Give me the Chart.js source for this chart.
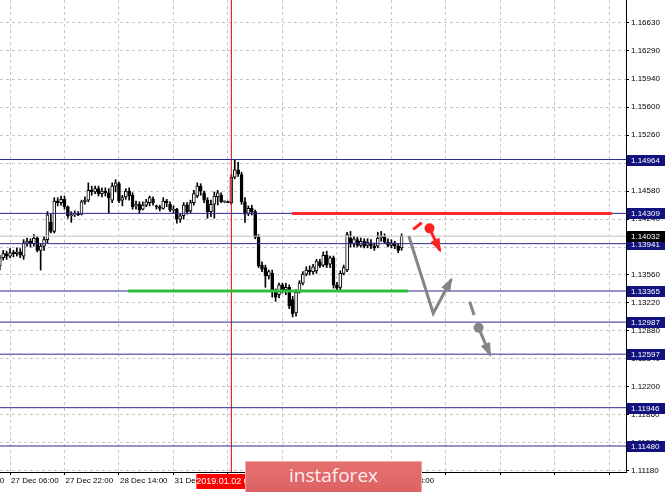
<!DOCTYPE html>
<html>
<head>
<meta charset="utf-8">
<script src="https://cdn.jsdelivr.net/npm/chart.js@4.4.1/dist/chart.umd.min.js"></script>
<style>
  html, body { margin: 0; padding: 0; background: #fff; }
  #wrap { position: relative; width: 665px; height: 492px; overflow: hidden; }
  #logo {
    position: absolute; left: 245px; top: 461px; width: 177px; height: 34px;
    box-sizing: border-box; border: 1px solid #f0a9a9;
    background: linear-gradient(#e46f6f, #dd6262);
    color: #fdeeee; font: 19px "Open Sans", "Liberation Sans", sans-serif;
    text-align: center; line-height: 27px;
  }
</style>
</head>
<body>
<div id="wrap">
  <canvas id="chart" width="665" height="492"></canvas>
  <div id="logo">instaforex</div>
</div>
<script>
// H1 bars, index 0 = 27 Dec 06:00, index 65 = 2 Jan 00:00 (no bars on 1 Jan)
const firstBar = -3;
const opens = [
  1.1367, 1.1377, 1.1382, 1.1379, 1.1383, 1.1382, 1.1384, 1.1379, 1.1395, 1.1397,
  1.1394, 1.1401, 1.1386, 1.1391, 1.1399, 1.1420, 1.1409, 1.1446, 1.1444, 1.1448,
  1.1439, 1.1428, 1.1429, 1.1430, 1.1430, 1.1445, 1.1447, 1.1459, 1.1457, 1.1461,
  1.1455, 1.1458, 1.1456, 1.1447, 1.1464, 1.1467, 1.1447, 1.1451, 1.1458, 1.1453,
  1.1440, 1.1442, 1.1436, 1.1441, 1.1444, 1.1448, 1.1440, 1.1439, 1.1437, 1.1446,
  1.1442, 1.1435, 1.1436, 1.1424, 1.1428, 1.1441, 1.1434, 1.1444, 1.1452, 1.1464,
  1.1456, 1.1447, 1.1433, 1.1442, 1.1451, 1.1453, 1.1445, 1.1445, 1.1444, 1.1475,
  1.1484, 1.1478, 1.1445, 1.1431, 1.1437, 1.1433, 1.1402, 1.1368, 1.1365, 1.1355,
  1.1358, 1.1337, 1.1332, 1.1344, 1.1338, 1.1341, 1.1326, 1.1310, 1.1337, 1.1346,
  1.1357, 1.1362, 1.1360, 1.1361, 1.1372, 1.1368, 1.1380, 1.1369, 1.1377, 1.1344,
  1.1341, 1.1358, 1.1362, 1.1401, 1.1394, 1.1399, 1.1392, 1.1397, 1.1392, 1.1395,
  1.1391, 1.1391, 1.1401, 1.1402, 1.1396, 1.1392, 1.1395, 1.1391, 1.1389
];
const highs = [
  1.1380, 1.1386, 1.1385, 1.1388, 1.1386, 1.1389, 1.1388, 1.1399, 1.1401, 1.1400,
  1.1405, 1.1403, 1.1394, 1.1403, 1.1433, 1.1430, 1.1450, 1.1450, 1.1452, 1.1452,
  1.1440, 1.1433, 1.1434, 1.1433, 1.1447, 1.1451, 1.1468, 1.1464, 1.1464, 1.1464,
  1.1462, 1.1462, 1.1461, 1.1468, 1.1472, 1.1469, 1.1453, 1.1461, 1.1462, 1.1456,
  1.1446, 1.1445, 1.1445, 1.1448, 1.1452, 1.1451, 1.1441, 1.1441, 1.1450, 1.1448,
  1.1445, 1.1440, 1.1437, 1.1430, 1.1444, 1.1444, 1.1447, 1.1459, 1.1468, 1.1467,
  1.1458, 1.1450, 1.1447, 1.1457, 1.1459, 1.1456, 1.1446, 1.1446, 1.1478, 1.1496,
  1.1493, 1.1481, 1.1450, 1.1440, 1.1441, 1.1435, 1.1405, 1.1372, 1.1368, 1.1362,
  1.1362, 1.1339, 1.1346, 1.1346, 1.1346, 1.1344, 1.1330, 1.1338, 1.1349, 1.1360,
  1.1366, 1.1367, 1.1369, 1.1375, 1.1375, 1.1384, 1.1385, 1.1379, 1.1379, 1.1347,
  1.1361, 1.1368, 1.1408, 1.1409, 1.1403, 1.1402, 1.1401, 1.1400, 1.1400, 1.1399,
  1.1395, 1.1408, 1.1409, 1.1406, 1.1400, 1.1399, 1.1397, 1.1394, 1.1406
];
const lows = [
  1.1362, 1.1374, 1.1375, 1.1377, 1.1378, 1.1379, 1.1377, 1.1375, 1.1391, 1.1390,
  1.1391, 1.1384, 1.1362, 1.1386, 1.1395, 1.1407, 1.1407, 1.1440, 1.1441, 1.1436,
  1.1425, 1.1420, 1.1427, 1.1428, 1.1429, 1.1442, 1.1445, 1.1453, 1.1455, 1.1452,
  1.1451, 1.1452, 1.1431, 1.1444, 1.1457, 1.1444, 1.1440, 1.1448, 1.1447, 1.1436,
  1.1436, 1.1431, 1.1435, 1.1439, 1.1440, 1.1441, 1.1436, 1.1434, 1.1436, 1.1439,
  1.1433, 1.1431, 1.1419, 1.1420, 1.1424, 1.1430, 1.1431, 1.1441, 1.1450, 1.1453,
  1.1444, 1.1425, 1.1427, 1.1425, 1.1441, 1.1444, 1.1444, 1.1444, 1.1442, 1.1473,
  1.1476, 1.1442, 1.1420, 1.1428, 1.1429, 1.1400, 1.1365, 1.1360, 1.1341, 1.1351,
  1.1329, 1.1324, 1.1328, 1.1334, 1.1332, 1.1315, 1.1305, 1.1306, 1.1334, 1.1344,
  1.1355, 1.1356, 1.1357, 1.1358, 1.1365, 1.1366, 1.1365, 1.1365, 1.1340, 1.1337,
  1.1338, 1.1356, 1.1360, 1.1390, 1.1390, 1.1390, 1.1390, 1.1389, 1.1389, 1.1388,
  1.1386, 1.1389, 1.1397, 1.1394, 1.1390, 1.1389, 1.1388, 1.1383, 1.1386
];
const closes = [
  1.1377, 1.1382, 1.1379, 1.1383, 1.1382, 1.1384, 1.1380, 1.1395, 1.1397, 1.1394,
  1.1401, 1.1386, 1.1391, 1.1399, 1.1429, 1.1409, 1.1446, 1.1444, 1.1448, 1.1439,
  1.1428, 1.1429, 1.1430, 1.1429, 1.1445, 1.1447, 1.1459, 1.1457, 1.1461, 1.1455,
  1.1458, 1.1456, 1.1450, 1.1464, 1.1468, 1.1446, 1.1450, 1.1458, 1.1452, 1.1439,
  1.1442, 1.1435, 1.1441, 1.1445, 1.1450, 1.1444, 1.1439, 1.1437, 1.1446, 1.1444,
  1.1435, 1.1436, 1.1424, 1.1428, 1.1441, 1.1433, 1.1444, 1.1455, 1.1464, 1.1458,
  1.1447, 1.1433, 1.1442, 1.1452, 1.1456, 1.1445, 1.1445, 1.1444, 1.1475, 1.1484,
  1.1479, 1.1445, 1.1430, 1.1437, 1.1433, 1.1402, 1.1367, 1.1363, 1.1355, 1.1360,
  1.1337, 1.1329, 1.1344, 1.1338, 1.1341, 1.1318, 1.1309, 1.1335, 1.1346, 1.1357,
  1.1362, 1.1360, 1.1366, 1.1373, 1.1367, 1.1380, 1.1368, 1.1377, 1.1344, 1.1340,
  1.1358, 1.1365, 1.1405, 1.1394, 1.1400, 1.1392, 1.1397, 1.1391, 1.1396, 1.1391,
  1.1389, 1.1401, 1.1403, 1.1396, 1.1392, 1.1395, 1.1391, 1.1386, 1.1403
];

// levels drawn on the chart (labelled boxes on the price axis)
const levels = [1.14964, 1.14309, 1.13941, 1.13365, 1.12987, 1.12597, 1.11946, 1.11480];
const bidPrice = 1.14032;
const priceTicks = [1.11180, 1.11520, 1.11860, 1.12200, 1.12540, 1.12880, 1.13220, 1.13560, 1.13900,
  1.14240, 1.14580, 1.14920, 1.15260, 1.15600, 1.15940, 1.16290, 1.16630];
const timeLabels = ['26 Dec 14:00', '27 Dec 06:00', '27 Dec 22:00', '28 Dec 14:00', '31 Dec 06:00',
  '31 Dec 22:00', '2 Jan 15:00', '3 Jan 07:00', '3 Jan 23:00'];
const timeStep = 16;
const gridCount = 13;
const markerBar = 65;
const markerLabel = '2019.01.02 00:00';
const xMin = -2.94, xMax = 180.9, yMin = 1.11164, yMax = 1.16904;

// forecast drawings: [bar index, price]
const resistLine = [[82.8, 1.14309], [176.8, 1.14309]];
const supportLine = [[34.6, 1.13365], [116.9, 1.13365]];
const grayPath = [[117.1, 1.14034], [124.3, 1.13094], [129.6, 1.13507]];
const redDash = [[118.4, 1.14115], [120.9, 1.14195]];
const redDot = [123.2, 1.14127];
const redArrow = [[123.2, 1.14127], [126.3, 1.13855]];
const grayDash = [[135.0, 1.13235], [136.3, 1.13073]];
const grayDot = [137.6, 1.12919];
const grayArrow = [[137.6, 1.12919], [141.0, 1.12586]];

const FONT = '"Liberation Sans", Arial, sans-serif';
Chart.defaults.font.family = FONT;
Chart.defaults.font.size = 8;
Chart.defaults.color = '#000';

const barIdx = opens.map((_, k) => firstBar + k);
const tickIdx = [];
for (let k = 0; k < gridCount; k++) tickIdx.push((k - 1) * timeStep);

const pts = arr => arr.map(p => ({ x: p[0], y: p[1] }));
const lineDs = (data, color, width, order, extra = {}) => Object.assign({
  type: 'line', data: data, borderColor: color, borderWidth: width, pointRadius: 0,
  fill: false, tension: 0, order: order, borderCapStyle: 'butt'
}, extra);

const datasets = [];
// candles
datasets.push({
  type: 'bar', grouped: false, order: 9,
  data: barIdx.map((x, k) => ({ x: x, y: [opens[k], closes[k]] })),
  backgroundColor: barIdx.map((_, k) => closes[k] >= opens[k] ? '#ffffff' : '#000000'),
  borderColor: '#000', borderWidth: 1, borderSkipped: false, barThickness: 3, minBarLength: 1
});
datasets.push({
  type: 'bar', grouped: false, order: 10,
  data: barIdx.map((x, k) => ({ x: x, y: [lows[k], highs[k]] })),
  backgroundColor: '#000', borderWidth: 0, barThickness: 1
});
// level lines
datasets.push(lineDs([{ x: xMin, y: bidPrice }, { x: xMax, y: bidPrice }], '#c4c4c4', 1, 8));
levels.forEach(v => datasets.push(lineDs([{ x: xMin, y: v }, { x: xMax, y: v }], '#2b2b92', 1, 5)));
datasets.push(lineDs([{ x: markerBar, y: yMin }, { x: markerBar, y: yMax }], '#e60000', 1, 5));
// analysis drawings
datasets.push(lineDs(pts(resistLine), '#ff2b2b', 3, 2));
datasets.push(lineDs(pts(supportLine), '#2fbf3c', 3, 2));
datasets.push(lineDs(pts(grayPath), '#858585', 3, 1, { arrowHead: true }));
datasets.push(lineDs(pts(redDash), '#ff2020', 3, 1));
datasets.push(lineDs(pts(redArrow), '#ff2020', 3, 1, { arrowHead: true }));
datasets.push(lineDs(pts(grayDash), '#858585', 3, 1));
datasets.push(lineDs(pts(grayArrow), '#858585', 3, 1, { arrowHead: true }));
datasets.push({ type: 'scatter', data: pts([redDot]), pointRadius: 5, backgroundColor: '#ff2020', borderWidth: 0, order: 0 });
datasets.push({ type: 'scatter', data: pts([grayDot]), pointRadius: 5, backgroundColor: '#858585', borderWidth: 0, order: 0 });

const overlay = {
  id: 'overlay',
  afterDatasetsDraw(chart) {
    const ctx = chart.ctx;
    chart.data.datasets.forEach((ds, i) => {
      if (!ds.arrowHead) return;
      const el = chart.getDatasetMeta(i).data;
      const a = el[el.length - 2], b = el[el.length - 1];
      const ang = Math.atan2(b.y - a.y, b.x - a.x);
      const L = 14, W = 5;
      const tx = b.x + Math.cos(ang) * 2, ty = b.y + Math.sin(ang) * 2;
      const bx = tx - Math.cos(ang) * L, by = ty - Math.sin(ang) * L;
      ctx.save();
      ctx.fillStyle = ds.borderColor;
      ctx.beginPath();
      ctx.moveTo(tx, ty);
      ctx.lineTo(bx - Math.sin(ang) * W, by + Math.cos(ang) * W);
      ctx.lineTo(bx + Math.sin(ang) * W, by - Math.cos(ang) * W);
      ctx.closePath();
      ctx.fill();
      ctx.restore();
    });
  },
  afterDraw(chart) {
    const ctx = chart.ctx, ys = chart.scales.y, xs = chart.scales.x, area = chart.chartArea;
    ctx.save();
    ctx.font = '8px ' + FONT;
    ctx.textBaseline = 'middle';
    const box = (v, bg) => {
      const py = Math.round(ys.getPixelForValue(v));
      ctx.fillStyle = bg;
      ctx.fillRect(area.right + 1, py - 5, chart.width - area.right - 1, 11);
      ctx.fillStyle = '#fff';
      ctx.textAlign = 'left';
      ctx.fillText(v.toFixed(5), area.right + 5, py + 1);
    };
    levels.forEach(v => box(v, '#12127e'));
    box(bidPrice, '#000');
    // time label of the vertical line
    const mx = xs.getPixelForValue(markerBar);
    ctx.fillStyle = '#ff0000';
    ctx.fillRect(mx - 35, area.bottom + 2, 70, 15);
    ctx.fillStyle = '#fff';
    ctx.textAlign = 'center';
    ctx.font = '9px ' + FONT;
    ctx.fillText(markerLabel, mx, area.bottom + 10);
    ctx.restore();
  }
};

new Chart(document.getElementById('chart'), {
  type: 'bar',
  data: { datasets: datasets },
  options: {
    responsive: false,
    animation: false,
    layout: { padding: 0, autoPadding: false },
    plugins: { legend: { display: false }, tooltip: { enabled: false } },
    scales: {
      x: {
        type: 'linear', min: xMin, max: xMax, offset: false,
        afterBuildTicks: s => { s.ticks = tickIdx.map(v => ({ value: v })); },
        afterFit: s => { s.height = 20; s.paddingLeft = 0; s.paddingRight = 0; },
        ticks: {
          callback: (v, i) => timeLabels[i] || '',
          align: 'start', maxRotation: 0, autoSkip: false, padding: 1, labelOffset: 1
        },
        grid: { color: '#c6c6c6', offset: false, tickColor: '#000', tickLength: 3 },
        border: { color: '#000', dash: [3, 3] }
      },
      y: {
        position: 'right', min: yMin, max: yMax,
        afterBuildTicks: s => { s.ticks = priceTicks.map(v => ({ value: v })); },
        afterFit: s => { s.width = 39; s.paddingTop = 0; s.paddingBottom = 0; },
        ticks: { callback: v => v.toFixed(5), padding: 2 },
        grid: { color: '#c6c6c6', tickColor: '#000', tickLength: 3 },
        border: { color: '#000', dash: [3, 3] }
      }
    }
  },
  plugins: [overlay]
});
</script>
</body>
</html>
